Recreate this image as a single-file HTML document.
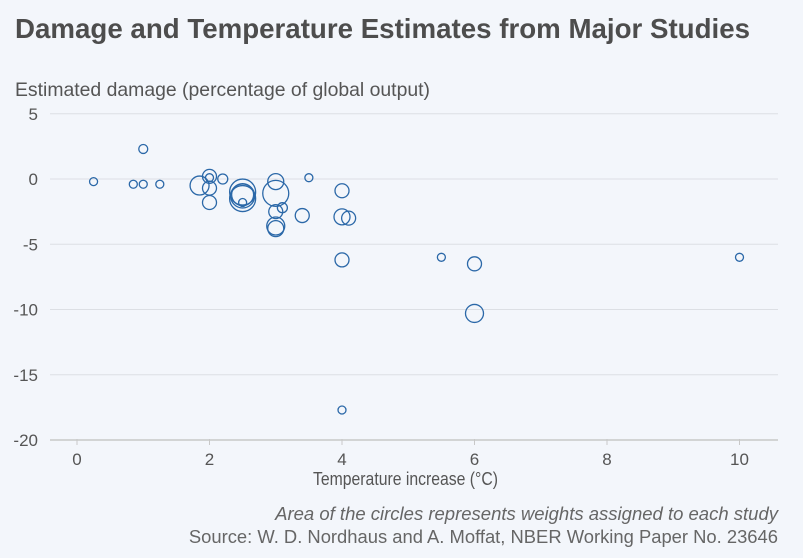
<!DOCTYPE html>
<html><head><meta charset="utf-8"><style>
body{margin:0;background:#f3f6fb;}
svg{display:block;font-family:"Liberation Sans",sans-serif;}
</style></head><body>
<svg width="803" height="558">
<rect width="803" height="558" fill="#f3f6fb"/>
<text x="15" y="38" font-size="27.5" font-weight="bold" fill="#4d4d4d" textLength="735" lengthAdjust="spacingAndGlyphs">Damage and Temperature Estimates from Major Studies</text>
<text x="15" y="96" font-size="19.2" fill="#555" textLength="415" lengthAdjust="spacingAndGlyphs">Estimated damage (percentage of global output)</text>
<g id="grid"></g><g id="marks"></g>
<text x="313" y="485" font-size="18" fill="#555" textLength="185" lengthAdjust="spacingAndGlyphs">Temperature increase (°C)</text>
<text x="778" y="520" font-size="18.5" font-style="italic" fill="#666" text-anchor="end">Area of the circles represents weights assigned to each study</text>
<text x="778" y="543" font-size="18.4" fill="#666" text-anchor="end">Source: W. D. Nordhaus and A. Moffat, NBER Working Paper No. 23646</text>
</svg>
<script>
const xTicks=[0,2,4,6,8,10];
const yTicks=[5,0,-5,-10,-15,-20];
const temps=[0.25,0.85,1,1.25,1,1.85,2,2,2,2,2.2,2.5,2.5,2.5,2.5,2.5,3,3,3,3.1,3,3,3.4,3.5,4,4,4.1,4,5.5,6,6,10,4];
const damages=[-0.2,-0.4,-0.4,-0.4,2.3,-0.5,0.2,0.1,-0.7,-1.8,0,-1.0,-1.3,-1.5,-1.2,-1.8,-0.2,-1.1,-2.5,-2.2,-3.6,-3.8,-2.8,0.1,-0.9,-2.9,-3.0,-6.2,-6.0,-6.5,-10.3,-6.0,-17.7];
const weights=[16,16,16,16,20,90,49,16,49,49,25,169,144,169,121,16,64,169,49,25,81,64,49,16,49,64,49,49,16,49,81,16,16];
const X=v=>77+v*66.25, Y=v=>179-v*13.05;
const ns="http://www.w3.org/2000/svg";
const g=document.getElementById('grid'), m=document.getElementById('marks');
yTicks.forEach(t=>{
 const l=document.createElementNS(ns,'line');
 l.setAttribute('x1',50);l.setAttribute('x2',778);l.setAttribute('y1',Y(t));l.setAttribute('y2',Y(t));
 l.setAttribute('stroke',t===-20?'#c8c8c8':'#dcdfe4');l.setAttribute('stroke-width',t===-20?1.5:1);
 
 
 g.appendChild(l);
 const s=document.createElementNS(ns,'text');
 s.setAttribute('x',38);s.setAttribute('y',Y(t)+6);s.setAttribute('text-anchor','end');s.setAttribute('font-size',17);s.setAttribute('fill','#555');
 s.textContent=t;
 
 
 g.appendChild(s);
});
xTicks.forEach(t=>{
 const l=document.createElementNS(ns,'line');
 l.setAttribute('x1',X(t));l.setAttribute('x2',X(t));l.setAttribute('y1',439);l.setAttribute('y2',445);l.setAttribute('stroke','#c8c8c8');
 
 
 g.appendChild(l);
 const s=document.createElementNS(ns,'text');
 s.setAttribute('x',X(t));s.setAttribute('y',465);s.setAttribute('text-anchor','middle');s.setAttribute('font-size',17);s.setAttribute('fill','#555');
 s.textContent=t;
 
 
 g.appendChild(s);
});
temps.forEach((t,i)=>{
 const c=document.createElementNS(ns,'circle');
 c.setAttribute('cx',X(t));c.setAttribute('cy',Y(damages[i]));c.setAttribute('r',Math.sqrt(weights[i]));
 c.setAttribute('fill','none');c.setAttribute('stroke','#2b68a8');c.setAttribute('stroke-width',1.3);
 
 
 m.appendChild(c);
});
</script>
</body></html>
